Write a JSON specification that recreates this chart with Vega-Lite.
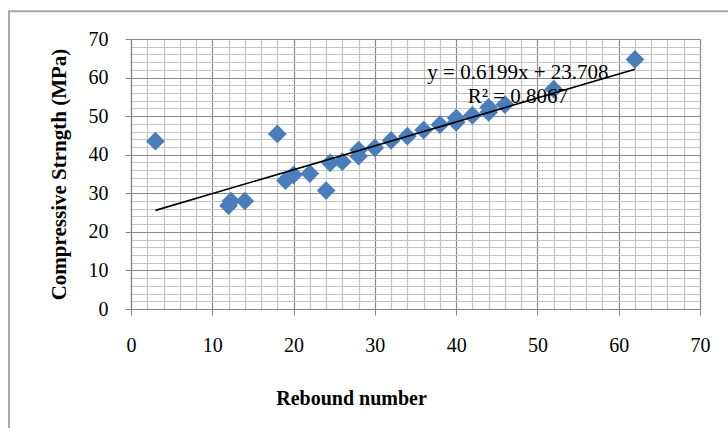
{
  "$schema": "https://vega.github.io/schema/vega-lite/v6.json",
  "width": 569,
  "height": 270,
  "autosize": {"type": "none"},
  "padding": {"left": 131, "top": 39, "right": 28, "bottom": 119},
  "background": "white",
  "config": {"view": {"stroke": null}, "font": "Liberation Serif"},
  "datasets": {
    "points": [
      {"x": 3, "y": 43.5},
      {"x": 12, "y": 26.8},
      {"x": 12.3, "y": 28},
      {"x": 14, "y": 28},
      {"x": 18, "y": 45.4},
      {"x": 19, "y": 33.3},
      {"x": 20, "y": 34.8},
      {"x": 22, "y": 35.1},
      {"x": 24, "y": 30.7},
      {"x": 24.5, "y": 37.9},
      {"x": 26, "y": 38.2},
      {"x": 28, "y": 39.6},
      {"x": 28, "y": 41.2},
      {"x": 30, "y": 41.8},
      {"x": 32, "y": 43.7},
      {"x": 34, "y": 44.8},
      {"x": 36, "y": 46.4},
      {"x": 38, "y": 47.8},
      {"x": 40, "y": 48.4},
      {"x": 40, "y": 49.5},
      {"x": 42, "y": 50.2},
      {"x": 44, "y": 51},
      {"x": 44, "y": 52.3},
      {"x": 46, "y": 53},
      {"x": 52, "y": 57},
      {"x": 62, "y": 64.7}
    ],
    "trend": [
      {"x": 3, "y": 25.57},
      {"x": 62, "y": 62.14}
    ],
    "labels": [
      {"x": 47.6, "y": 61.2, "text": "y = 0.6199x + 23.708"},
      {"x": 47.6, "y": 55.0, "text": "R² = 0.8067"}
    ]
  },
  "layer": [
    {
      "data": {"name": "points"},
      "mark": {"type": "point", "shape": "diamond", "filled": true, "size": 350, "opacity": 1, "color": "#4a7ebb"},
      "encoding": {
        "x": {
          "field": "x", "type": "quantitative",
          "scale": {"domain": [0, 70], "nice": false, "zero": false},
          "axis": {
            "values": [0,2,4,6,8,10,12,14,16,18,20,22,24,26,28,30,32,34,36,38,40,42,44,46,48,50,52,54,56,58,60,62,64,66,68,70],
            "tickCount": 100,
            "format": "d",
            "title": "Rebound number",
            "titleFont": "Liberation Serif", "titleFontWeight": "bold", "titleFontSize": 20, "titleColor": "black",
            "titleX": 220, "titleAlign": "center", "titlePadding": 33,
            "labelExpr": "datum.value % 10 === 0 ? datum.label : ''",
            "labelFont": "Liberation Serif", "labelFontSize": 20, "labelColor": "black", "labelPadding": 20,
            "labelOverlap": false, "labelFlush": false, "labelBound": false,
            "tickSize": 6,
            "tickColor": {"condition": {"test": "datum.value % 10 === 0", "value": "#868686"}, "value": "transparent"},
            "grid": true,
            "gridColor": {"condition": {"test": "datum.value % 10 === 0", "value": "#8a8a8a"}, "value": "#c4c4c4"},
            "gridWidth": 1.2,
            "domainColor": "#868686", "domainWidth": 1.2
          }
        },
        "y": {
          "field": "y", "type": "quantitative",
          "scale": {"domain": [0, 70], "nice": false, "zero": false},
          "axis": {
            "values": [0,2,4,6,8,10,12,14,16,18,20,22,24,26,28,30,32,34,36,38,40,42,44,46,48,50,52,54,56,58,60,62,64,66,68,70],
            "tickCount": 100,
            "format": "d",
            "title": "Compressive Strngth (MPa)",
            "titleFont": "Liberation Serif", "titleFontWeight": "bold", "titleFontSize": 21, "titleColor": "black",
            "titlePadding": 19,
            "labelExpr": "datum.value % 10 === 0 ? datum.label : ''",
            "labelFont": "Liberation Serif", "labelFontSize": 20, "labelColor": "black", "labelPadding": 17,
            "labelOverlap": false, "labelFlush": false, "labelBound": false,
            "tickSize": 6,
            "tickColor": {"condition": {"test": "datum.value % 10 === 0", "value": "#868686"}, "value": "transparent"},
            "grid": true,
            "gridColor": {"condition": {"test": "datum.value % 10 === 0", "value": "#8a8a8a"}, "value": "#c4c4c4"},
            "gridWidth": 1.2,
            "domainColor": "#868686", "domainWidth": 1.2
          }
        }
      }
    },
    {
      "data": {"name": "trend"},
      "mark": {"type": "line", "color": "black", "strokeWidth": 1.6},
      "encoding": {
        "x": {"field": "x", "type": "quantitative"},
        "y": {"field": "y", "type": "quantitative"}
      }
    },
    {
      "data": {"name": "labels"},
      "mark": {"type": "text", "font": "Liberation Serif", "fontSize": 21, "color": "black", "align": "center", "baseline": "middle"},
      "encoding": {
        "x": {"field": "x", "type": "quantitative"},
        "y": {"field": "y", "type": "quantitative"},
        "text": {"field": "text"}
      }
    },
    {
      "data": {"values": [{}]},
      "mark": {"type": "rect", "fill": null, "stroke": "#a6a6a6", "strokeWidth": 2, "clip": false},
      "encoding": {
        "x": {"datum": -15, "type": "quantitative"},
        "x2": {"datum": 90},
        "y": {"datum": 77.2, "type": "quantitative"},
        "y2": {"datum": -40}
      }
    }
  ]
}
